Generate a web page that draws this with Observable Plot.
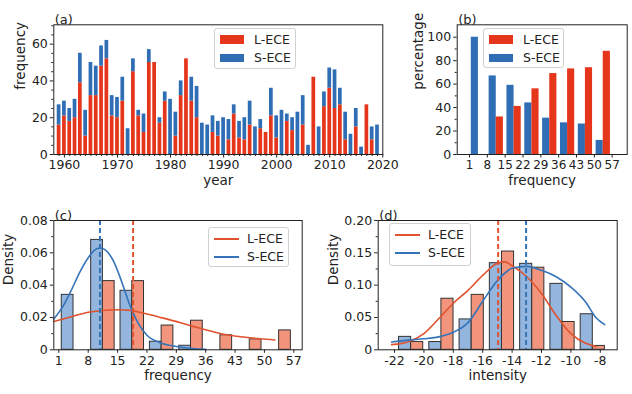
<!DOCTYPE html>
<html>
<head>
<meta charset="utf-8">
<script src="https://cdn.jsdelivr.net/npm/d3@7"></script>
<script src="https://cdn.jsdelivr.net/npm/@observablehq/plot@0.6"></script>
<style>
  html, body { margin: 0; padding: 0; background: #fff; }
  #wrap { position: relative; width: 632px; height: 394px; overflow: hidden; font-family: "DejaVu Sans", sans-serif; }
  #wrap > svg { position: absolute; }
  .leg { position: absolute; border: 1px solid #d0d0d0; border-radius: 3px; background: rgba(255,255,255,0.85); box-sizing: border-box; }
  .leg .sw { position: absolute; }
  .leg .lab { position: absolute; font-size: 12.5px; line-height: 16px; color: #222; white-space: nowrap; }
</style>
</head>
<body>
<div id="wrap"></div>
<script>
// ---------- data ----------
// (a) yearly counts
const years = [1959,1960,1961,1962,1963,1964,1965,1966,1967,1968,1969,1970,1971,1972,1973,1974,1975,1976,1977,1978,1979,1980,1981,1982,1983,1984,1985,1986,1987,1988,1989,1990,1991,1992,1993,1994,1995,1996,1997,1998,1999,2000,2001,2002,2003,2004,2005,2006,2007,2008,2009,2010,2011,2012,2013,2014,2015,2016,2017,2018,2019];
const lECE = [16,21,18,20,39,10,32,32,48,52, 21,20,29,0,45,21,12,50,50,17, 29,0,10,32,52,29,20,0,0,12, 10,0,8,22,9,8,16,0,14,12, 21,9,0,18,13,0,16,0,42,0, 26,36,25,27,8,0,15,0,27,8, 0];
const sECE = [11,8,7,10,16,14,18,16,11,10, 11,11,13,14,7,3,10,7,0,3, 5,30,13,8,0,13,17,17,16,9, 8,20,11,5,9,12,13,15,5,0, 15,12,24,4,7,23,16,5,0,15, 8,11,21,9,15,11,10,4,0,7, 16];
const yearTicks = [1960,1970,1980,1990,2000,2010,2020];
const countTicks = [0,20,40,60];

// (b) percentage per frequency bin
const freqEdges = [1,8,15,22,29,36,43,50,57];
const lPct = [0,32,41,56,69,73,74,88];
const sPct = [100,67,59,44,31,27,26,12];
const pctTicks = [0,20,40,60,80,100];

// (c) density of frequency
const lDensF = [0,0.0425,0.0425,0.015,0.018,0.009,0.0065,0.012];
const sDensF = [0.034,0.068,0.0365,0.005,0.0025,0,0,0];
const densFTicks = [0,0.02,0.04,0.06,0.08];
const lKdeFx = [-0.2,4,8,12,15,18,21,25,30,34,38,42,46,49,52.5];
const lKdeFy = [0.0175,0.0205,0.0232,0.0245,0.0248,0.0244,0.0228,0.0202,0.0168,0.0138,0.011,0.0088,0.0076,0.0068,0.0061];
const sKdeFx = [-0.2,2,4,6,8,10,11,12,14,16,18,20,22,25,29,33,36];
const sKdeFy = [0.019,0.027,0.037,0.048,0.057,0.0625,0.063,0.062,0.055,0.042,0.027,0.016,0.009,0.0045,0.002,0.0008,0.0003];
const meanF = {L: 18.7, S: 10.8};

// (d) density of intensity
const intEdges = [-21.9,-19.84,-17.78,-15.72,-13.66,-11.6,-9.54,-7.48];
const lDensI = [0.012,0.079,0.085,0.152,0.127,0.043,0.006];
const sDensI = [0.02,0.012,0.047,0.134,0.133,0.102,0.055];
const densITicks = [0,0.05,0.10,0.15,0.20];
const intTicks = [-22,-20,-18,-16,-14,-12,-10,-8];
const lKdeIx = [-22.2,-21,-20,-19,-18,-17,-16,-15,-14.5,-14,-13,-12,-11,-10,-9,-8.3];
const lKdeIy = [0.008,0.013,0.025,0.048,0.072,0.092,0.115,0.134,0.136,0.13,0.113,0.087,0.053,0.025,0.01,0.005];
const sKdeIx = [-22.2,-21,-20,-19,-18,-17,-16,-15,-14,-13,-12,-11,-10,-9,-8.3,-7.7];
const sKdeIy = [0.012,0.015,0.017,0.02,0.027,0.042,0.075,0.107,0.126,0.129,0.123,0.113,0.097,0.074,0.05,0.039];
const meanI = {L: -14.95, S: -13.05};

const series = ["L-ECE","S-ECE"];

// ---------- styles ----------
const RED = "#e5361b", BLUE = "#2f6eb5";
const RED_L = "#f2957c", BLUE_L = "#93b5de";
const RED_LINE = "#e0532e", BLUE_LINE = "#3573b9";
const FONT = "DejaVu Sans";
const style = {fontFamily: FONT, fontSize: "12.5px", color: "#222", background: "transparent", overflow: "visible"};
const wrap = document.getElementById("wrap");

function place(svg, left, top) {
  svg.style.left = left + "px";
  svg.style.top = top + "px";
  wrap.appendChild(svg);
}
function common(title, xlab, ylab, ylabDx) {
  return [
    Plot.frame({stroke: "#222", strokeWidth: 1}),
    Plot.text([title], {text: d => d, frameAnchor: "top-left", textAnchor: "start", dx: 1, dy: -10, fontSize: 13}),
    Plot.text([xlab], {text: d => d, frameAnchor: "bottom", dy: 30, fontSize: 13.5}),
    Plot.text([ylab], {text: d => d, frameAnchor: "left", rotate: -90, dx: ylabDx, fontSize: 13.5})
  ];
}
const fmt = d => String(d);

// ---------- (a) ----------
const rowsA = [];
years.forEach((yr, i) => {
  rowsA.push({year: yr, s: series[0], y1: 0, y2: lECE[i]});
  rowsA.push({year: yr, s: series[1], y1: lECE[i], y2: lECE[i] + sECE[i]});
});
const minorYears = years.filter(y => !yearTicks.includes(y));
place(Plot.plot({
  width: 390, height: 195, marginLeft: 53.3, marginRight: 7.7, marginTop: 24.3, marginBottom: 41,
  style,
  x: {domain: [1958, 2020]},
  y: {domain: [0, 70.5]},
  marks: [
    Plot.rectY(rowsA.filter(d => d.y2 > d.y1), {x1: d => d.year - 0.35, x2: d => d.year + 0.35, y1: "y1", y2: "y2", fill: d => d.s === "L-ECE" ? RED : BLUE}),
    Plot.axisX(yearTicks, {tickSize: 3.5, tickPadding: 2.5, label: null, tickFormat: fmt}),
    Plot.axisX(minorYears, {tickSize: 2, tickFormat: () => "", label: null}),
    Plot.axisY(countTicks, {tickSize: 3.5, tickPadding: 2.5, label: null, tickFormat: fmt}),
    Plot.axisY([5,10,15,25,30,35,45,50,55,65,70], {tickSize: 2, tickFormat: () => "", label: null}),
    ...common("(a)", "year", "frequency", -33)
  ]
}), 0, 0);

// ---------- (b) ----------
const rowsB = [];
lPct.forEach((v, i) => {
  const e = freqEdges[i], w = freqEdges[i + 1] - e;
  rowsB.push({s: "S-ECE", x1: e + 0.1 * w, x2: e + 0.5 * w, y: sPct[i]});
  rowsB.push({s: "L-ECE", x1: e + 0.5 * w, x2: e + 0.9 * w, y: v});
});
place(Plot.plot({
  width: 242, height: 195, marginLeft: 66.7, marginRight: 5.3, marginTop: 24.3, marginBottom: 41,
  style,
  x: {domain: [-3.83, 62.9]},
  y: {domain: [0, 110.6]},
  marks: [
    Plot.rectY(rowsB.filter(d => d.y > 0), {x1: "x1", x2: "x2", y: "y", fill: d => d.s === "L-ECE" ? RED : BLUE}),
    Plot.axisX(freqEdges, {tickSize: 3.5, tickPadding: 2.5, label: null, tickFormat: fmt, fontSize: 12}),
    Plot.axisY(pctTicks, {tickSize: 3.5, tickPadding: 2.5, label: null, tickFormat: fmt}),
    Plot.axisY([10,30,50,70,90], {tickSize: 2, tickFormat: () => "", label: null}),
    ...common("(b)", "frequency", "percentage", -38.7)
  ]
}), 390, 0);

// ---------- (c) ----------
const rowsC = [];
lDensF.forEach((v, i) => {
  const e = freqEdges[i], w = freqEdges[i + 1] - e;
  rowsC.push({s: "S-ECE", x1: e + 0.1 * w, x2: e + 0.5 * w, y: sDensF[i]});
  rowsC.push({s: "L-ECE", x1: e + 0.5 * w, x2: e + 0.9 * w, y: v});
});
const kdeFL = lKdeFx.map((x, i) => ({x, y: lKdeFy[i]}));
const kdeFS = sKdeFx.map((x, i) => ({x, y: sKdeFy[i]}));
place(Plot.plot({
  width: 316, height: 199, marginLeft: 53.3, marginRight: 14.3, marginTop: 25, marginBottom: 44.7,
  style,
  x: {domain: [-0.2, 59]},
  y: {domain: [0, 0.08]},
  marks: [
    Plot.rectY(rowsC.filter(d => d.y > 0), {x1: "x1", x2: "x2", y: "y", fill: d => d.s === "L-ECE" ? RED_L : BLUE_L, stroke: "#333", strokeWidth: 1}),
    Plot.line(kdeFL, {x: "x", y: "y", stroke: RED_LINE, strokeWidth: 1.6, curve: "monotone-x"}),
    Plot.line(kdeFS, {x: "x", y: "y", stroke: BLUE_LINE, strokeWidth: 1.6, curve: "monotone-x"}),
    Plot.ruleX([meanF.S], {stroke: BLUE_LINE, strokeWidth: 2, strokeDasharray: "5,3"}),
    Plot.ruleX([meanF.L], {stroke: RED_LINE, strokeWidth: 2, strokeDasharray: "5,3"}),
    Plot.axisX(freqEdges, {tickSize: 3.5, tickPadding: 2.5, label: null, tickFormat: fmt}),
    Plot.axisY(densFTicks, {tickSize: 3.5, tickPadding: 2.5, label: null, tickFormat: d => d === 0 ? "0" : d.toFixed(2)}),
    Plot.axisY([0.01,0.03,0.05,0.07], {tickSize: 2, tickFormat: () => "", label: null}),
    ...common("(c)", "frequency", "Density", -45)
  ]
}), 0, 195);

// ---------- (d) ----------
const rowsD = [];
lDensI.forEach((v, i) => {
  const e = intEdges[i], w = intEdges[i + 1] - e;
  rowsD.push({s: "S-ECE", x1: e + 0.1 * w, x2: e + 0.5 * w, y: sDensI[i]});
  rowsD.push({s: "L-ECE", x1: e + 0.5 * w, x2: e + 0.9 * w, y: v});
});
const kdeIL = lKdeIx.map((x, i) => ({x, y: lKdeIy[i]}));
const kdeIS = sKdeIx.map((x, i) => ({x, y: sKdeIy[i]}));
place(Plot.plot({
  width: 316, height: 199, marginLeft: 61.7, marginRight: 15.3, marginTop: 25, marginBottom: 44.7,
  style,
  x: {domain: [-23.11, -6.85]},
  y: {domain: [0, 0.2]},
  marks: [
    Plot.rectY(rowsD.filter(d => d.y > 0), {x1: "x1", x2: "x2", y: "y", fill: d => d.s === "L-ECE" ? RED_L : BLUE_L, stroke: "#333", strokeWidth: 1}),
    Plot.line(kdeIL, {x: "x", y: "y", stroke: RED_LINE, strokeWidth: 1.6, curve: "monotone-x"}),
    Plot.line(kdeIS, {x: "x", y: "y", stroke: BLUE_LINE, strokeWidth: 1.6, curve: "monotone-x"}),
    Plot.ruleX([meanI.L], {stroke: RED_LINE, strokeWidth: 2, strokeDasharray: "5,3"}),
    Plot.ruleX([meanI.S], {stroke: BLUE_LINE, strokeWidth: 2, strokeDasharray: "5,3"}),
    Plot.axisX(intTicks, {tickSize: 3.5, tickPadding: 2.5, label: null, tickFormat: fmt}),
    Plot.axisY(densITicks, {tickSize: 3.5, tickPadding: 2.5, label: null, tickFormat: d => d === 0 ? "0" : d.toFixed(2)}),
    Plot.axisY([0.025,0.075,0.125,0.175], {tickSize: 2, tickFormat: () => "", label: null}),
    ...common("(d)", "intensity", "Density", -44.7)
  ]
}), 316, 195);

// ---------- legends ----------
function legend(left, top, width, height, kind, rows) {
  const box = document.createElement("div");
  box.className = "leg";
  Object.assign(box.style, {left: left + "px", top: top + "px", width: width + "px", height: height + "px"});
  rows.forEach((r, i) => {
    const sw = document.createElement("div");
    sw.className = "sw";
    if (kind === "patch") {
      Object.assign(sw.style, {left: "5px", top: (6 + i * 18.5) + "px", width: "24px", height: "8.5px", background: r.color});
    } else {
      Object.assign(sw.style, {left: "5px", top: (10 + i * 18) + "px", width: "25px", height: "2px", background: r.color});
    }
    const lab = document.createElement("div");
    lab.className = "lab";
    lab.textContent = r.label;
    Object.assign(lab.style, {left: (kind === "patch" ? 39 : 38) + "px", top: (kind === "patch" ? 2.5 + i * 18.5 : 3 + i * 18) + "px"});
    box.appendChild(sw);
    box.appendChild(lab);
  });
  wrap.appendChild(box);
}
legend(214, 28, 82, 41, "patch", [{label: series[0], color: RED}, {label: series[1], color: BLUE}]);
legend(483, 28, 81, 40, "patch", [{label: series[0], color: RED}, {label: series[1], color: BLUE}]);
legend(208, 227, 81, 40, "line", [{label: series[0], color: RED_LINE}, {label: series[1], color: BLUE_LINE}]);
legend(389, 223, 82, 43, "line", [{label: series[0], color: RED_LINE}, {label: series[1], color: BLUE_LINE}]);
</script>
</body>
</html>
